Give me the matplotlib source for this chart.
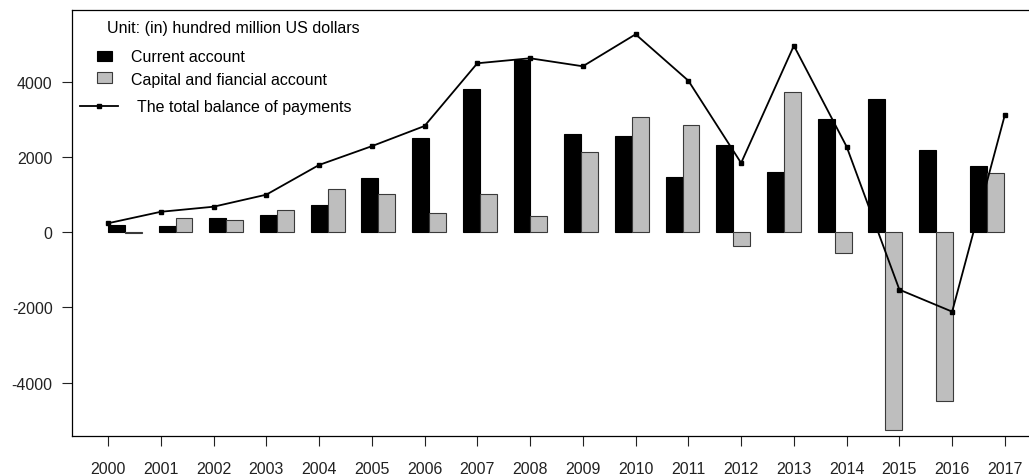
import numpy as np
import matplotlib.pyplot as plt
from matplotlib.patches import Rectangle
from matplotlib.lines import Line2D

plt.rcParams['font.family'] = ['Liberation Sans', 'DejaVu Sans']
plt.rcParams['axes.unicode_minus'] = False

# ------------------------------
# Datos (cientos de millones USD)
# ------------------------------
years = [2000, 2001, 2002, 2003, 2004, 2005, 2006, 2007, 2008,
         2009, 2010, 2011, 2012, 2013, 2014, 2015, 2016, 2017]
current = [205, 176, 372, 460, 735, 1436, 2500, 3811, 4590,
           2606, 2553, 1463, 2330, 1604, 3005, 3553, 2189, 1771]
capital = [-20, 372, 335, 585, 1152, 1010, 505, 1010, 425,
           2128, 3075, 2854, -364, 3723, -551, -5250, -4495, 1585]
total = [240, 545, 680, 1000, 1790, 2290, 2827, 4495, 4628,
         4415, 5266, 4032, 1843, 4963, 2277, -1526, -2111, 3128]

W, H = 1029, 477
def fx(px): return px / W
def fy(py): return 1 - py / H

fig = plt.figure(figsize=(W/100, H/100), dpi=100)
ax = fig.add_axes([fx(72), fy(437), 1 - fx(72), fy(10.7) - fy(437)])

n = len(years)
idx = np.arange(n)
# las barras van algo mas juntas que las marcas del eje (como en el original)
step = 50.7 / 52.76
bw = 16.9 / 52.76
ax.bar(idx*step, current, width=bw, align='edge', color='black',
       edgecolor='black', linewidth=0.8, zorder=2)
ax.bar(idx*step + bw, capital, width=bw, align='edge', color='#bebebe',
       edgecolor='#3a3a3a', linewidth=0.8, zorder=2)
ax.plot(idx, total, color='black', lw=1.3, marker='s', ms=3.2, zorder=3)

ax.set_xlim(-0.682, (W - 108) / 52.76)
ax.set_ylim(-5418, 5920)
ax.set_xticks(idx)
ax.set_xticklabels([str(y) for y in years])
ax.set_yticks([-4000, -2000, 0, 2000, 4000])
ax.tick_params(axis='both', labelsize=11.5, length=7, width=0.8, colors='#222222')
ax.tick_params(axis='x', pad=11)
ax.tick_params(axis='y', pad=7)
ax.spines['right'].set_visible(False)
for s in ['left', 'bottom', 'top']:
    ax.spines[s].set_linewidth(0.9)

# ------------------------------
# Leyenda manual
# ------------------------------
fs = 11.5
fig.text(fx(107), fy(29), "Unit: (in) hundred million US dollars", fontsize=fs,
         va='center', ha='left')
fig.add_artist(Rectangle((fx(97), fy(62)), fx(15), fy(52) - fy(62),
                         transform=fig.transFigure, facecolor='black', edgecolor='black', lw=0.8))
fig.text(fx(131), fy(58), "Current account", fontsize=fs, va='center', ha='left')
fig.add_artist(Rectangle((fx(97), fy(84)), fx(15), fy(73) - fy(84),
                         transform=fig.transFigure, facecolor='#bebebe', edgecolor='#3a3a3a', lw=0.8))
fig.text(fx(131), fy(80), "Capital and fiancial account", fontsize=fs, va='center', ha='left')
fig.add_artist(Line2D([fx(80), fx(118)], [fy(107), fy(107)], transform=fig.transFigure,
                      color='black', lw=1.3))
fig.add_artist(Line2D([fx(99)], [fy(107)], transform=fig.transFigure,
                      color='black', marker='s', ms=3.2))
fig.text(fx(137), fy(108), "The total balance of payments", fontsize=fs, va='center', ha='left')

plt.savefig('out.png', dpi=100)
